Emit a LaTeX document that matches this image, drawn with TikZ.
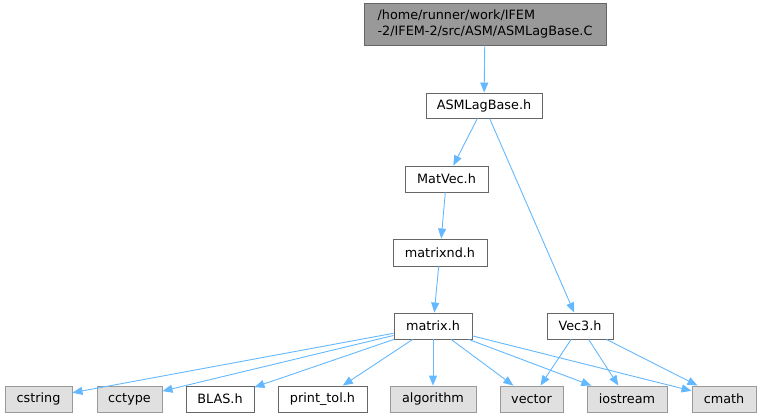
\documentclass[tikz,border=0pt]{standalone}
\usepackage{fontspec}
\setmainfont{DejaVu Sans}
\usetikzlibrary{arrows.meta}
\definecolor{edgeblue}{HTML}{63B8FF}
\definecolor{grayfill}{HTML}{E0E0E0}
\definecolor{grayborder}{HTML}{999999}
\definecolor{darkborder}{HTML}{666666}
\definecolor{topfill}{HTML}{999999}
\begin{document}
\begin{tikzpicture}[x=1pt,y=-1pt,
  box/.style={draw=darkborder,fill=white,line width=0.9pt,inner sep=0pt,minimum height=26pt,font=\fontsize{12.8}{15.5}\selectfont},
  sysbox/.style={box,draw=grayborder,fill=grayfill},
  topbox/.style={box,fill=topfill,minimum height=42pt,minimum width=242pt,align=left},
  edge/.style={draw=edgeblue,line width=0.9pt,-{Triangle[length=10pt,width=8pt]}}]
\useasboundingbox (0,0) rectangle (761,417);
\node[topbox] (top) at (485,24) {/home/runner/work/IFEM\\-2/IFEM-2/src/ASM/ASMLagBase.C};
\node[box,minimum width=116pt,minimum height=25pt] (asmlag) at (484,105.5) {ASMLagBase.h};
\node[box,minimum width=83pt] (matvec) at (446.5,179) {MatVec.h};
\node[box,minimum width=94pt,minimum height=27pt] (matrixnd) at (440,252.5) {matrixnd.h};
\node[box,minimum width=78pt] (matrix) at (433,326) {matrix.h};
\node[box,minimum width=66pt] (vec3) at (580,326) {Vec3.h};
\node[sysbox,minimum width=67pt] (cstring) at (38.5,399) {cstring};
\node[sysbox,minimum width=65pt] (cctype) at (129.5,399) {cctype};
\node[box,minimum width=68pt] (blas) at (220,399) {BLAS.h};
\node[box,minimum width=89pt] (printtol) at (322.5,399) {print\_tol.h};
\node[sysbox,minimum width=86pt] (algorithm) at (433,399) {algorithm};
\node[sysbox,minimum width=63pt] (vector) at (531.5,399) {vector};
\node[sysbox,minimum width=80pt] (iostream) at (627,399) {iostream};
\node[sysbox,minimum width=64pt] (cmath) at (724,399) {cmath};
\draw[edge] (top) -- (asmlag);
\draw[edge] (asmlag) -- (matvec);
\draw[edge] (asmlag) -- (vec3);
\draw[edge] (matvec) -- (matrixnd);
\draw[edge] (matrixnd) -- (matrix);
\draw[edge] (matrix) -- (cstring);
\draw[edge] (matrix) -- (cctype);
\draw[edge] (matrix) -- (blas);
\draw[edge] (matrix) -- (printtol);
\draw[edge] (matrix) -- (algorithm);
\draw[edge] (matrix) -- (vector);
\draw[edge] (matrix) -- (iostream);
\draw[edge] (matrix) -- (cmath);
\draw[edge] (vec3) -- (vector);
\draw[edge] (vec3) -- (iostream);
\draw[edge] (vec3) -- (cmath);
\end{tikzpicture}
\end{document}
